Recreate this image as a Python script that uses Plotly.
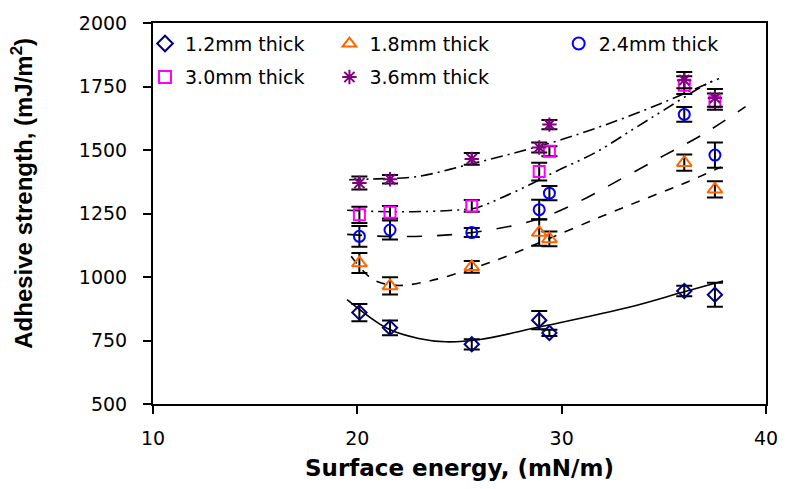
import plotly.graph_objects as go

# ---------------- data ----------------
surface_energy = [20.1, 21.6, 25.6, 28.9, 29.4, 36.0, 37.5]

series_names = ["1.2mm thick", "1.8mm thick", "2.4mm thick", "3.0mm thick", "3.6mm thick"]

strength_12 = [860, 800, 735, 830, 780, 945, 930]
error_12 = [34, 29, 20, 36, 12, 21, 47]
strength_18 = [1055, 965, 1040, 1175, 1150, 1450, 1345]
error_18 = [39, 34, 23, 52, 29, 32, 32]
strength_24 = [1160, 1185, 1175, 1265, 1330, 1640, 1480]
error_24 = [41, 37, 18, 39, 28, 29, 50]
strength_30 = [1245, 1255, 1280, 1415, 1495, 1755, 1690]
error_30 = [32, 25, 23, 35, 20, 35, 32]
strength_36 = [1370, 1385, 1465, 1510, 1600, 1775, 1705]
error_36 = [26, 17, 23, 20, 18, 32, 35]

# trendlines
trend_x_12 = [19.5, 21.5, 23.0, 24.3, 26.0, 28.9, 33.3, 36.0, 37.9]
trend_y_12 = [911, 796, 758, 745, 754, 803, 881, 942, 984]
trend_x_18 = [19.7, 20.75, 21.9, 23.5, 25.5, 27.5, 29.5, 32.0, 34.0, 36.0, 37.8]
trend_y_18 = [1082, 991, 967, 984, 1030, 1088, 1155, 1240, 1305, 1369, 1433]
trend_x_24 = [19.5, 21.9, 25.3, 28.7, 30.8, 33.0, 35.0, 36.9, 39.0]
trend_y_24 = [1168, 1159, 1172, 1224, 1295, 1390, 1478, 1561, 1671]
trend_x_30 = [19.5, 21.0, 22.7, 24.5, 25.8, 27.0, 28.4, 29.7, 31.7, 33.5, 35.0, 36.7, 37.6]
trend_y_30 = [1263, 1258, 1257, 1262, 1272, 1310, 1362, 1415, 1492, 1582, 1657, 1742, 1781]
trend_x_36 = [19.6, 20.75, 22.9, 25.5, 28.0, 30.0, 32.0, 34.0, 35.7, 37.7]
trend_y_36 = [1383, 1386, 1395, 1444, 1495, 1541, 1595, 1655, 1712, 1781]

x_ticks = [10, 20, 30, 40]
y_ticks = [500, 750, 1000, 1250, 1500, 1750, 2000]

# ---------------- styles ----------------
values = [strength_12, strength_18, strength_24, strength_30, strength_36]
errors = [error_12, error_18, error_24, error_30, error_36]
trend_xs = [trend_x_12, trend_x_18, trend_x_24, trend_x_30, trend_x_36]
trend_ys = [trend_y_12, trend_y_18, trend_y_24, trend_y_30, trend_y_36]
symbols = ["diamond-open", "triangle-up-open", "circle-open", "square-open", "asterisk-open"]
colors = ["#000080", "#FF6600", "#0000FF", "#FF00FF", "#800080"]
msizes = [11, 13, 11, 11, 12]
dashes = ["solid", "dash", "longdash", "12px,5px,2px,5px,2px,5px", "12px,5px,2px,5px"]

# legend placement (pixel centres of the symbols)
leg_px = [165, 350, 580, 165, 350]
leg_py = [38, 38, 38, 72, 72]

W, H = 790, 489
L, R, T, B = 153, 22, 17, 85
pw, ph = W - L - R, H - T - B

fig = go.Figure()

for i in range(5):
    fig.add_trace(go.Scatter(
        x=trend_xs[i], y=trend_ys[i], mode="lines",
        line=dict(color="black", width=1.6, dash=dashes[i], shape="spline", smoothing=1.0),
        showlegend=False, hoverinfo="skip"))

for i in range(5):
    lg = "legend" if i == 0 else f"legend{i+1}"
    fig.add_trace(go.Scatter(
        x=surface_energy, y=values[i], mode="markers", name=series_names[i],
        marker=dict(symbol=symbols[i], size=msizes[i], color=colors[i],
                    line=dict(color=colors[i], width=2)),
        error_y=dict(type="data", array=errors[i], visible=True,
                     color="black", thickness=2, width=8),
        legend=lg))

legend_font = dict(family="DejaVu Sans", size=19, color="black")
for i in range(5):
    key = "legend" if i == 0 else f"legend{i+1}"
    fig.layout[key] = dict(
        x=(leg_px[i] - 20 - L) / pw, y=1 - (leg_py[i] - T) / ph,
        xanchor="left", yanchor="middle",
        bgcolor="rgba(0,0,0,0)", borderwidth=0,
        font=legend_font, itemsizing="constant")

fig.update_layout(
    width=W, height=H,
    margin=dict(l=L, r=R, t=T, b=B, pad=0),
    paper_bgcolor="white", plot_bgcolor="white",
    xaxis=dict(range=[10, 40], tickvals=x_ticks, ticks="outside", ticklen=8,
               tickwidth=2, tickcolor="black", showline=True, linecolor="black",
               linewidth=2, mirror=True, showgrid=False, zeroline=False,
               ticklabelstandoff=8,
               tickfont=dict(family="DejaVu Sans", size=19, color="black"),
               title=dict(text="<b>Surface energy, (mN/m)</b>", standoff=12,
                          font=dict(family="DejaVu Sans", size=23, color="black"))),
    yaxis=dict(range=[500, 2000], tickvals=y_ticks, ticks="outside", ticklen=8,
               tickwidth=2, tickcolor="black", showline=True, linecolor="black",
               linewidth=2, mirror=True, showgrid=False, zeroline=False,
               ticklabelstandoff=12,
               tickfont=dict(family="DejaVu Sans", size=19, color="black")),
    annotations=[dict(
        text="<b>Adhesive strength, (mJ/m<sup>2</sup>)</b>", textangle=-90,
        xref="paper", yref="paper",
        x=(22 - L) / pw, y=(T + ph - 190) / ph,
        xanchor="center", yanchor="middle", showarrow=False,
        font=dict(family="Liberation Sans", size=24, color="black"))],
)

fig.write_html("out.html")
